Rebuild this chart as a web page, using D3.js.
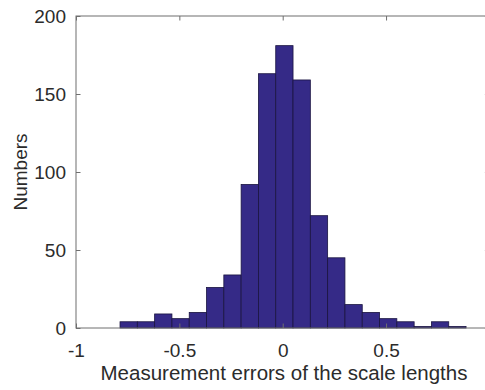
<!DOCTYPE html>
<html>
<head>
<meta charset="utf-8">
<script src="https://cdn.jsdelivr.net/npm/d3@7/dist/d3.min.js"></script>
<style>
  html, body { margin: 0; padding: 0; background: #fff; overflow: hidden; }
  svg { display: block; font-family: "Liberation Sans", Arial, sans-serif; }
</style>
</head>
<body>
<svg id="chart" width="485" height="390"></svg>
<script>
// Histogram bin edges (20 equal bins) and the count in each bin
const binEdges = [-0.787, -0.7033, -0.6196, -0.5359, -0.4522, -0.3685, -0.2848, -0.2011,
                  -0.1174, -0.0337, 0.05, 0.1337, 0.2174, 0.3011, 0.3848, 0.4685,
                  0.5522, 0.6359, 0.7196, 0.8033, 0.887];
const counts = [4, 4, 9, 6, 10, 26, 34, 92, 163, 181, 159, 72, 45, 15, 10, 6, 4, 1, 4, 1];

// Axis ticks
const xTicks = [-1, -0.5, 0, 0.5, 1];
const xTickLabels = ["-1", "-0.5", "0", "0.5", "1"];
const yTicks = [0, 50, 100, 150, 200];

const xLabel = "Measurement errors of the scale lengths";
const yLabel = "Numbers";

const svg = d3.select("#chart");
const plotLeft = 76, plotRight = 489.4, plotTop = 16, plotBottom = 328;
const axisColor = "#6f6f6f";
const textColor = "#2b2b2b";
const fontSize = 19;

const x = d3.scaleLinear().domain([-1, 1]).range([plotLeft, plotRight]);
const y = d3.scaleLinear().domain([0, 200]).range([plotBottom, plotTop]);

const bins = counts.map((c, i) => ({ x0: binEdges[i], x1: binEdges[i + 1], n: c }));

// Bars
svg.append("g")
  .selectAll("rect")
  .data(bins)
  .join("rect")
  .attr("x", d => x(d.x0))
  .attr("width", d => x(d.x1) - x(d.x0))
  .attr("y", d => y(d.n))
  .attr("height", d => y(0) - y(d.n))
  .attr("fill", "#352a87")
  .attr("stroke", "#1a1440")
  .attr("stroke-width", 0.8);

// Box around the plot area
svg.append("rect")
  .attr("x", plotLeft).attr("y", plotTop)
  .attr("width", plotRight - plotLeft).attr("height", plotBottom - plotTop)
  .attr("fill", "none")
  .attr("stroke", axisColor)
  .attr("stroke-width", 1);

const tickLen = 4.5;

// Bottom axis: inward ticks and labels
const xAxisBottom = d3.axisBottom(x)
  .tickValues(xTicks)
  .tickSizeInner(-tickLen).tickSizeOuter(0)
  .tickPadding(16)
  .tickFormat((d, i) => xTickLabels[i]);
const gxb = svg.append("g").attr("transform", `translate(0,${plotBottom})`).call(xAxisBottom);

// Top mirror ticks
const gxt = svg.append("g").attr("transform", `translate(0,${plotTop})`)
  .call(d3.axisTop(x).tickValues(xTicks).tickSizeInner(-tickLen).tickSizeOuter(0).tickFormat(""));

// Left axis: inward ticks and labels
const yAxisLeft = d3.axisLeft(y)
  .tickValues(yTicks)
  .tickSizeInner(-tickLen).tickSizeOuter(0)
  .tickPadding(10);
const gyl = svg.append("g").attr("transform", `translate(${plotLeft},0)`).call(yAxisLeft);

// Right mirror ticks
const gyr = svg.append("g").attr("transform", `translate(${plotRight},0)`)
  .call(d3.axisRight(y).tickValues(yTicks).tickSizeInner(-tickLen).tickSizeOuter(0).tickFormat(""));

[gxb, gxt, gyl, gyr].forEach(g => {
  g.select(".domain").remove();
  g.selectAll(".tick line").attr("stroke", axisColor);
  g.selectAll(".tick text")
    .attr("fill", textColor)
    .style("font-size", fontSize + "px")
    .style("font-family", '"Liberation Sans", Arial, sans-serif');
});
gxb.selectAll(".tick text").attr("dy", "0.71em").attr("y", 16);

// Axis titles
svg.append("text")
  .attr("x", 284)
  .attr("y", 380)
  .attr("text-anchor", "middle")
  .attr("fill", textColor)
  .style("font-size", "20.5px")
  .text(xLabel);

svg.append("text")
  .attr("transform", `translate(27,${(plotTop + plotBottom) / 2}) rotate(-90)`)
  .attr("text-anchor", "middle")
  .attr("fill", textColor)
  .style("font-size", fontSize + "px")
  .text(yLabel);
</script>
</body>
</html>
